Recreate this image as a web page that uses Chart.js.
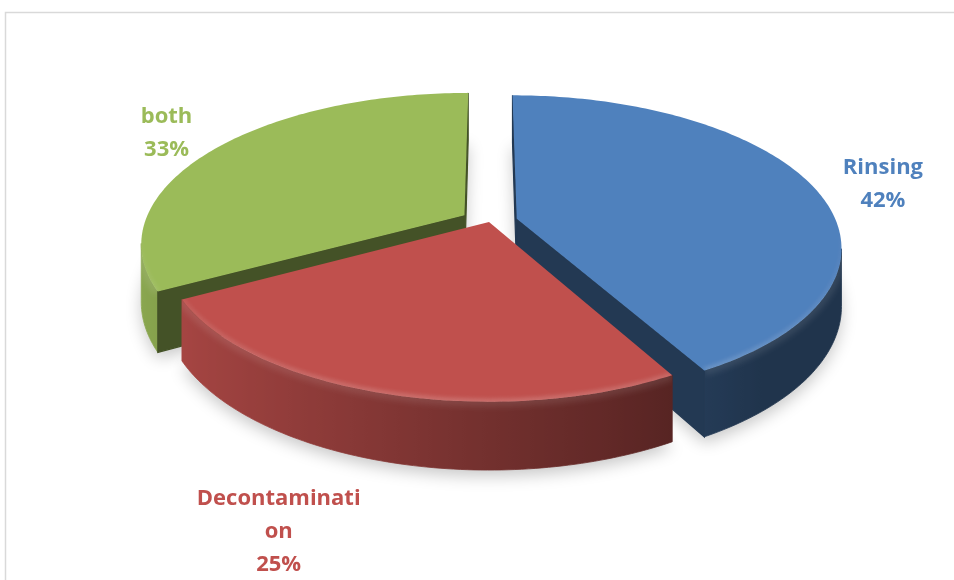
<!DOCTYPE html>
<html>
<head>
<meta charset="utf-8">
<script src="https://cdn.jsdelivr.net/npm/chart.js@4.4.1/dist/chart.umd.min.js"></script>
<style>
  html, body { margin: 0; padding: 0; background: #ffffff; }
  #wrap { width: 954px; height: 580px; position: relative; overflow: hidden; }
  canvas { display: block; }
</style>
</head>
<body>
<div id="wrap"><canvas id="chart" width="954" height="580"></canvas></div>
<script>
// Survey answers: share of respondents per cleaning method (percent)
const categories = ['Rinsing', 'Decontamination', 'both'];
const shares = [42, 25, 33];

// Office-style palette: slice fill and label colour
const sliceColors = ['#4F81BD', '#C0504D', '#9BBB59'];
const labelColors = ['#4F81BD', '#C0504D', '#9BBB59'];

// How far each slice is pulled out from the centre (fraction of radius)
const explode = [0.09, 0, 0.09];

// Tilted-disc view: horizontal / vertical scale and thickness in radii,
// plus a mild perspective factor (front of the disc appears larger)
const VIEW = { rx: 1.44, ry: 0.662, depth: 0.252, persp: 0.182 };

// Data label placement: radius in radii and small pixel nudges per slice
const LABEL_R = 1.22;
const labelNudge = [[11, 6], [-72, 89], [-1, -3]];
const LABEL_FONT = 'bold 22px "Open Sans"';
const LABEL_LINE = 33;
const LABEL_WRAP = 13;

function hexToRgb(h) {
  const n = parseInt(h.slice(1), 16);
  return [(n >> 16) & 255, (n >> 8) & 255, n & 255];
}
function shade(hex, f) {
  const c = hexToRgb(hex).map(v => Math.max(0, Math.min(255, Math.round(v * f))));
  return `rgb(${c[0]},${c[1]},${c[2]})`;
}
function signedArea(pts) {
  let s = 0;
  for (let i = 0; i < pts.length; i++) {
    const a = pts[i], b = pts[(i + 1) % pts.length];
    s += a[0] * b[1] - b[0] * a[1];
  }
  return s;
}
function polyPath(ctx, pts) {
  ctx.beginPath();
  ctx.moveTo(pts[0][0], pts[0][1]);
  for (let i = 1; i < pts.length; i++) ctx.lineTo(pts[i][0], pts[i][1]);
  ctx.closePath();
}
// light falls from the left: outer wall brightness by wall angle
function wallFactor(theta) {
  return Math.max(0.4, Math.min(0.9, 0.6 - 0.3 * Math.cos(theta)));
}
function wrapWord(word, n) {
  const out = [];
  for (let i = 0; i < word.length; i += n) out.push(word.slice(i, i + n));
  return out;
}

// Builds the projected geometry of every slice from the pie's arc elements
function sliceGeometry(chart) {
  const arcs = chart.getDatasetMeta(0).data;
  const R = arcs[0].outerRadius, cx = arcs[0].x, cy = arcs[0].y;
  const proj = (u, v, h) => {
    const w = 1 - VIEW.persp * v;
    return [cx + VIEW.rx * R * u / w, cy + (VIEW.ry * R * v + VIEW.depth * R * h) / w];
  };
  return arcs.map((arc, i) => {
    const s = arc.startAngle, e = arc.endAngle, mid = (s + e) / 2;
    const ex = explode[i] * Math.cos(mid), ey = explode[i] * Math.sin(mid);
    const n = Math.max(2, Math.ceil((e - s) / (Math.PI / 180)));
    const thetas = [], top = [], bot = [];
    for (let k = 0; k <= n; k++) {
      const t = s + (e - s) * k / n;
      thetas.push(t);
      top.push(proj(ex + Math.cos(t), ey + Math.sin(t), 0));
      bot.push(proj(ex + Math.cos(t), ey + Math.sin(t), 1));
    }
    return {
      i, s, e, mid, ex, ey, thetas, top, bot,
      apexT: proj(ex, ey, 0), apexB: proj(ex, ey, 1),
      order: ey + 0.5 * Math.sin(mid),
      labelAt: proj(ex + LABEL_R * Math.cos(mid), ey + LABEL_R * Math.sin(mid), 0)
    };
  });
}

// one filled polygon per visible stretch of outer wall, shaded left to right
function drawWall(ctx, sl, a, b) {
  const base = sliceColors[sl.i];
  const pts = sl.top.slice(a, b + 2).concat(sl.bot.slice(a, b + 2).reverse());
  let xmin = Infinity, xmax = -Infinity;
  for (let k = a; k <= b + 1; k++) {
    xmin = Math.min(xmin, sl.top[k][0]);
    xmax = Math.max(xmax, sl.top[k][0]);
  }
  const g = ctx.createLinearGradient(xmin, 0, xmax, 0);
  const span = Math.max(1, xmax - xmin);
  for (let k = a; k <= b + 1; k++) {
    g.addColorStop((sl.top[k][0] - xmin) / span, shade(base, wallFactor(sl.thetas[k])));
  }
  polyPath(ctx, pts);
  ctx.fillStyle = g;
  ctx.strokeStyle = g;
  ctx.lineWidth = 0.8;
  ctx.fill();
  ctx.stroke();

  // rounded upper lip of the wall
  ctx.save();
  polyPath(ctx, pts);
  ctx.clip();
  ctx.filter = 'blur(3px)';
  ctx.beginPath();
  for (let k = a; k <= b + 1; k++) {
    const p = sl.top[k];
    k === a ? ctx.moveTo(p[0], p[1]) : ctx.lineTo(p[0], p[1]);
  }
  ctx.strokeStyle = 'rgba(255,255,255,0.10)';
  ctx.lineWidth = 10;
  ctx.stroke();
  ctx.restore();
}

const pie3d = {
  id: 'pie3d',
  beforeDraw(chart) {
    // thin frame of the chart area
    const ctx = chart.ctx;
    ctx.save();
    ctx.strokeStyle = '#d9d9d9';
    ctx.lineWidth = 1.5;
    ctx.strokeRect(5.5, 12.5, 1200, 1200);
    ctx.restore();
  },
  beforeDatasetsDraw(chart) {
    const ctx = chart.ctx;
    const slices = sliceGeometry(chart).sort((a, b) => a.order - b.order);

    // soft drop shadow under the disc
    ctx.save();
    ctx.shadowColor = 'rgba(0,0,0,0.22)';
    ctx.shadowBlur = 16;
    ctx.shadowOffsetY = 6;
    slices.forEach(sl => {
      polyPath(ctx, [sl.apexB].concat(sl.bot));
      ctx.fillStyle = '#ffffff';
      ctx.fill();
    });
    ctx.restore();

    slices.forEach(sl => {
      const base = sliceColors[sl.i];
      const n = sl.top.length - 1;

      // outer curved wall: find the stretches that face the viewer
      let start = -1;
      for (let k = 0; k <= n; k++) {
        const vis = k < n && signedArea([sl.top[k], sl.top[k + 1], sl.bot[k + 1], sl.bot[k]]) < 0;
        if (vis && start < 0) start = k;
        if (!vis && start >= 0) { drawWall(ctx, sl, start, k - 1); start = -1; }
      }

      // radial cut faces
      const faces = [
        [sl.apexT, sl.top[0], sl.bot[0], sl.apexB],
        [sl.top[n], sl.apexT, sl.apexB, sl.bot[n]]
      ];
      faces.forEach(f => {
        if (signedArea(f) < 0) {
          polyPath(ctx, f);
          ctx.fillStyle = shade(base, 0.44);
          ctx.strokeStyle = shade(base, 0.44);
          ctx.lineWidth = 1.2;
          ctx.fill();
          ctx.stroke();
        }
      });

      // top face
      const topPts = [sl.apexT].concat(sl.top);
      polyPath(ctx, topPts);
      ctx.fillStyle = base;
      ctx.fill();

      // rounded-bevel highlight along the front part of the rim
      ctx.save();
      polyPath(ctx, topPts);
      ctx.clip();
      ctx.filter = 'blur(2px)';
      ctx.lineWidth = 6;
      for (let k = 0; k < n; k++) {
        const sn = Math.sin((sl.thetas[k] + sl.thetas[k + 1]) / 2);
        if (sn <= 0) continue;
        ctx.beginPath();
        ctx.moveTo(sl.top[k][0], sl.top[k][1]);
        ctx.lineTo(sl.top[k + 1][0], sl.top[k + 1][1]);
        ctx.strokeStyle = `rgba(255,255,255,${(0.2 * sn).toFixed(3)})`;
        ctx.stroke();
      }
      ctx.restore();
    });
    return false;
  },
  afterDraw(chart) {
    const ctx = chart.ctx;
    const slices = sliceGeometry(chart);
    const total = shares.reduce((a, b) => a + b, 0);
    ctx.save();
    ctx.font = LABEL_FONT;
    ctx.textAlign = 'center';
    ctx.textBaseline = 'alphabetic';
    slices.forEach(sl => {
      const i = sl.i;
      const pct = Math.round(shares[i] / total * 100) + '%';
      const lines = wrapWord(categories[i], LABEL_WRAP).concat([pct]);
      const x = sl.labelAt[0] + labelNudge[i][0];
      const y = sl.labelAt[1] + labelNudge[i][1];
      ctx.fillStyle = labelColors[i];
      lines.forEach((ln, j) => {
        ctx.fillText(ln, x, y + (j - (lines.length - 1) / 2) * LABEL_LINE + 8);
      });
    });
    ctx.restore();
  }
};

new Chart(document.getElementById('chart'), {
  type: 'pie',
  data: {
    labels: categories,
    datasets: [{
      data: shares,
      backgroundColor: sliceColors,
      borderWidth: 0
    }]
  },
  options: {
    responsive: false,
    animation: false,
    events: [],
    layout: { padding: { left: 24, right: 0, top: 0, bottom: 136 } },
    plugins: {
      legend: { display: false },
      tooltip: { enabled: false }
    }
  },
  plugins: [pie3d]
});
</script>
</body>
</html>
